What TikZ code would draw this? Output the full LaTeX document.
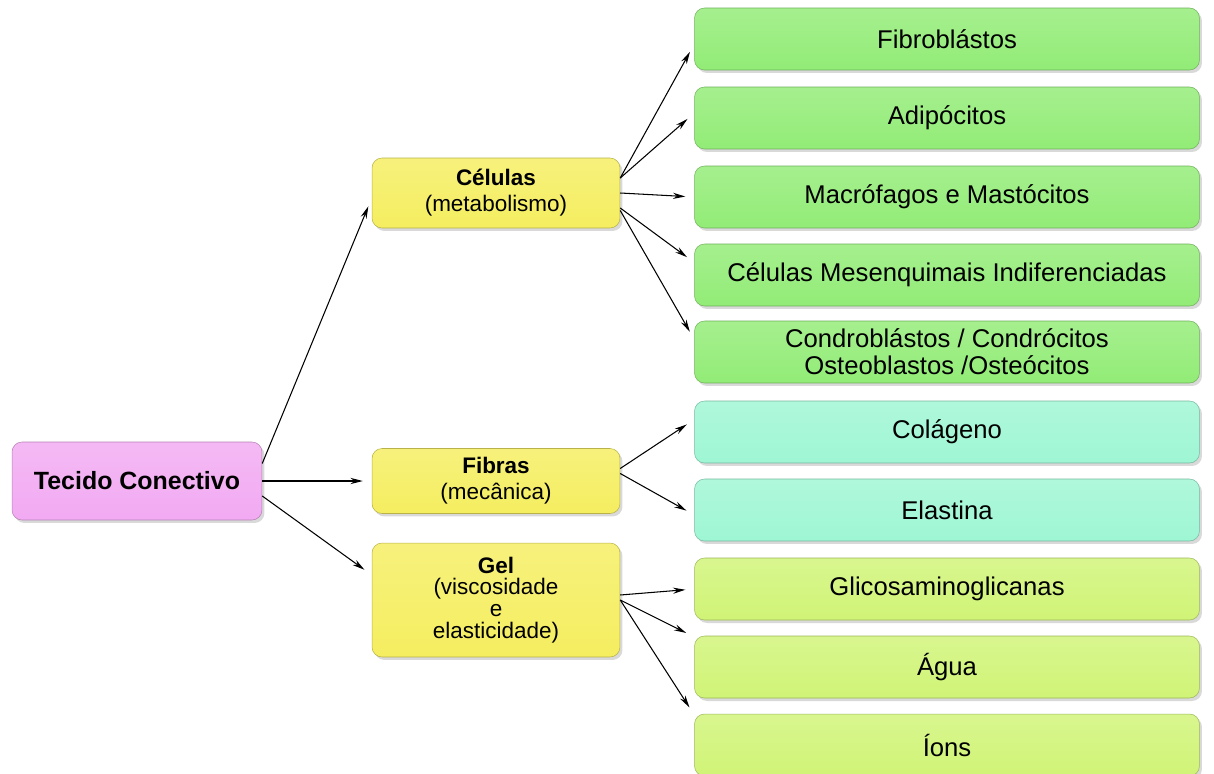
\documentclass[tikz,border=0pt]{standalone}
\usepackage{fontspec}
\setmainfont{Liberation Sans}
\usetikzlibrary{shadows,arrows.meta}

\definecolor{rosa}{RGB}{242,170,242}
\definecolor{amarelo}{RGB}{245,238,96}
\definecolor{verde}{RGB}{146,236,118}
\definecolor{agua}{RGB}{158,246,212}
\definecolor{lima}{RGB}{208,244,118}

\tikzset{
  caixa/.style={rounded corners=0.2cm, align=center, inner sep=0pt,
    draw=#1!75!black, line width=0.3pt,
    top color=#1!82!white, bottom color=#1,
    drop shadow={shadow xshift=0.05cm, shadow yshift=-0.06cm, opacity=0.3}},
  raiz/.style={caixa=rosa, minimum width=5cm, minimum height=1.56cm,
    font=\fontsize{14.2}{16}\selectfont\bfseries},
  grupo/.style={caixa=amarelo, minimum width=4.96cm,
    font=\fontsize{12.8}{14.8}\selectfont},
  item/.style={caixa=#1, minimum width=10.1cm, minimum height=1.24cm,
    font=\fontsize{14.6}{15.4}\selectfont},
  seta/.style={->, line width=0.6pt, shorten >=0.18cm}
}

\begin{document}
\begin{tikzpicture}[x=0.02cm, y=-0.02cm, >={Stealth[length=7pt,width=3.5pt]}]
  \useasboundingbox (0,0) rectangle (1214,774);

  % Raiz
  \node[raiz] (tec) at (137,481) {Tecido Conectivo};

  % Grupos
  \node[grupo, minimum height=1.4cm] (cel) at (496,193)
    {\textbf{Células}\\(metabolismo)};
  \node[grupo, minimum height=1.3cm] (fib) at (496,481)
    {\textbf{Fibras}\\(mecânica)};
  \node[grupo, minimum height=2.28cm, font=\fontsize{12.8}{12.4}\selectfont] (gel) at (496,600)
    {\textbf{Gel}\\(viscosidade\\e\\elasticidade)};

  % Celulas
  \node[item=verde] (fibro) at (947,39) {Fibroblástos};
  \node[item=verde] (adipo) at (947,118) {Adipócitos};
  \node[item=verde] (macro) at (947,197) {Macrófagos e Mastócitos};
  \node[item=verde] (mesen) at (947,275) {Células Mesenquimais Indiferenciadas};
  \node[item=verde] (condro) at (947,352)
    {Condroblástos / Condrócitos\\Osteoblastos /Osteócitos};

  % Fibras
  \node[item=agua] (colag) at (947,432) {Colágeno};
  \node[item=agua] (elast) at (947,510) {Elastina};

  % Gel
  \node[item=lima] (glico) at (947,589) {Glicosaminoglicanas};
  \node[item=lima] (agua) at (947,667) {Água};
  \node[item=lima] (ions) at (947,745) {Íons};

  % Setas da raiz
  \draw[seta] ([yshift=0.35cm]tec.east) -- ([yshift=-0.1cm]cel.west);
  \draw[seta] (tec.east) -- (fib.west);
  \draw[seta] ([yshift=-0.3cm]tec.east) -- ([yshift=0.5cm]gel.west);

  % Setas das celulas
  \draw[seta] ([yshift=0.3cm]cel.east) -- ([yshift=-0.1cm]fibro.west);
  \draw[seta] ([yshift=0.3cm]cel.east) -- ([yshift=0.1cm]adipo.west);
  \draw[seta] (cel.east) -- (macro.west);
  \draw[seta] ([yshift=-0.3cm]cel.east) -- ([yshift=0.25cm]mesen.west);
  \draw[seta] ([yshift=-0.35cm]cel.east) -- ([yshift=0.25cm]condro.west);

  % Setas das fibras
  \draw[seta] ([yshift=0.25cm]fib.east) -- ([yshift=0.25cm]colag.west);
  \draw[seta] ([yshift=0.15cm]fib.east) -- ([yshift=-0.1cm]elast.west);

  % Setas do gel
  \draw[seta] ([yshift=0.1cm]gel.east) -- (glico.west);
  \draw[seta] (gel.east) -- ([yshift=0.6cm]agua.west);
  \draw[seta] (gel.east) -- ([yshift=0.6cm]ions.west);
\end{tikzpicture}
\end{document}
